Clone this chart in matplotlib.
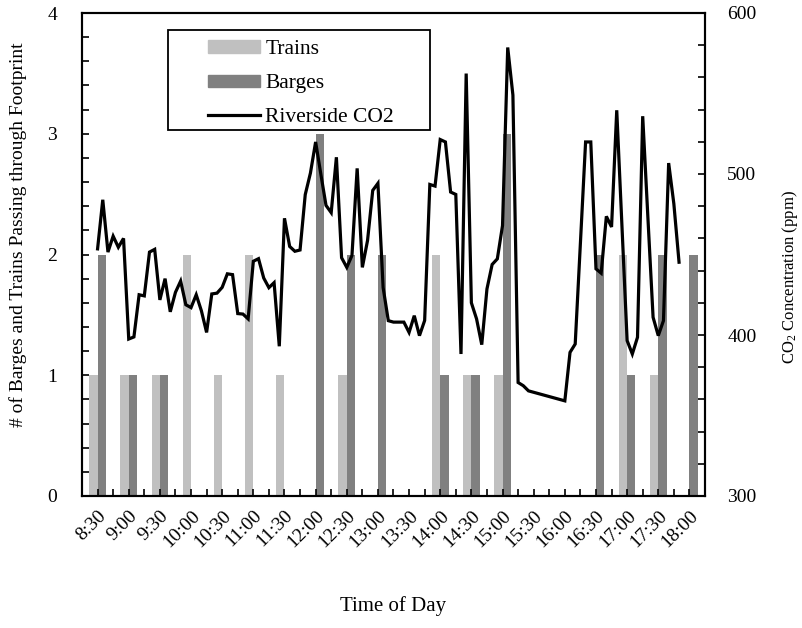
import matplotlib
matplotlib.use("Agg")
import matplotlib.pyplot as plt
from matplotlib.lines import Line2D
from matplotlib.patches import Patch, Rectangle
from matplotlib.ticker import MultipleLocator

plt.rcParams["font.family"] = ["Liberation Serif", "DejaVu Serif"]
plt.rcParams["mathtext.fontset"] = "custom"
plt.rcParams["mathtext.rm"] = "Liberation Serif"
plt.rcParams["mathtext.it"] = "Liberation Serif:italic"

# half-hour slots for the vessel / train counts
slots = ["8:30", "9:00", "9:30", "10:00", "10:30", "11:00", "11:30", "12:00",
         "12:30", "13:00", "13:30", "14:00", "14:30", "15:00", "15:30", "16:00",
         "16:30", "17:00", "17:30", "18:00"]
trains = [1, 1, 1, 2, 1, 2, 1, 0, 1, 0, 0, 2, 1, 1, 0, 0, 0, 2, 1, 0]
barges = [2, 1, 1, 0, 0, 0, 0, 3, 2, 2, 0, 1, 1, 3, 0, 0, 2, 1, 2, 2]

# riverside CO2, 5-min readings, minutes after 8:30 (no data 15:25-15:55)
co2_minutes = list(range(0, 420, 5)) + list(range(450, 565, 5))
co2_ppm = [
    453.5, 484.0, 451.5, 461.4, 454.5, 460.0, 397.5, 398.8, 425.0, 424.3,
    451.5, 453.2, 421.8, 435.0, 414.4, 426.5, 433.5, 418.8, 417.0, 425.0,
    415.0, 401.6, 425.5, 426.0, 429.6, 438.0, 437.5, 413.3, 413.0, 410.0,
    445.8, 447.4, 435.4, 429.4, 432.5, 393.0, 472.5, 455.0, 452.0, 452.8,
    487.2, 500.6, 519.9, 500.0, 480.5, 476.0, 510.4, 448.0, 442.0, 449.4,
    503.5, 442.0, 458.7, 489.8, 494.2, 429.5, 408.9, 408.0, 408.0, 408.0,
    401.6, 412.0, 399.6, 409.0, 493.5, 492.5, 521.4, 519.9, 488.8, 487.3,
    388.2, 562.4, 420.0, 410.0, 394.0, 428.6, 443.8, 447.3, 468.0, 578.6,
    549.0, 370.5, 368.5, 365.3,
    359.1, 389.2, 394.4, 457.0, 519.9, 519.9, 441.1, 438.4, 473.7, 467.1,
    539.6, 468.0, 396.5, 388.2, 398.6, 535.9, 473.0, 411.0, 399.6, 408.9,
    506.8, 481.5, 445.2,
]

TRAIN_C = "#c0c0c0"
BARGE_C = "#808080"
FS = 14

fig = plt.figure(figsize=(8.03, 6.28), dpi=100)
ax = fig.add_axes([82 / 803, 1 - 496 / 628, (705 - 82) / 803, (496 - 13) / 628])
ax2 = ax.twinx()

x = list(range(len(slots)))
w = 0.267
ax.bar([i - w / 2 for i in x], trains, width=w, color=TRAIN_C, linewidth=0)
ax.bar([i + w / 2 for i in x], barges, width=w, color=BARGE_C, linewidth=0)
ax2.plot([m / 30 for m in co2_minutes], co2_ppm, color="black", lw=2.3,
         solid_joinstyle="miter")

ax.set_xlim(-0.5, len(slots) - 0.5)
ax.set_ylim(0, 4)
ax2.set_ylim(300, 600)

ax.set_xticks(x)
ax.set_xticklabels(slots, rotation=45, ha="right", va="top",
                   rotation_mode="anchor", fontsize=FS)
ax.xaxis.set_minor_locator(MultipleLocator(0.5))
ax.yaxis.set_major_locator(MultipleLocator(1))
ax.yaxis.set_minor_locator(MultipleLocator(0.2))
ax2.yaxis.set_major_locator(MultipleLocator(100))
ax2.yaxis.set_minor_locator(MultipleLocator(20))

for a in (ax, ax2):
    a.tick_params(which="both", direction="in", length=5, width=1.2,
                  labelsize=FS, top=False)
    for s in a.spines.values():
        s.set_linewidth(1.5)
ax.tick_params(axis="x", which="both", pad=8)
ax.tick_params(axis="y", which="both", pad=18)
ax2.tick_params(axis="y", which="both", pad=16)

ax.set_xlabel("Time of Day", fontsize=FS + 1, labelpad=33)
ax.set_ylabel("# of Barges and Trains Passing through Footprint", fontsize=FS)
ax.yaxis.set_label_coords(-0.088, 0.542)
ax2.set_ylabel("CO$_2$ Concentration (ppm)", fontsize=12)
ax2.yaxis.set_label_coords(1.1204, 0.453)

# legend box drawn by hand, entries placed inside it
lx0, ly0, lx1, ly1 = 168, 30, 430, 130
box_x0 = (lx0 - 82) / (705 - 82)
box_y1 = (496 - ly0) / (496 - 13)
box_w = (lx1 - lx0) / (705 - 82)
box_h = (ly1 - ly0) / (496 - 13)
ax2.add_patch(Rectangle((box_x0, box_y1 - box_h), box_w, box_h,
                        transform=ax2.transAxes, fill=False, edgecolor="black",
                        lw=1.3, zorder=5, clip_on=False))
handles = [Patch(color=TRAIN_C), Patch(color=BARGE_C),
           Line2D([], [], color="black", lw=2.3)]
ax2.legend(handles, ["Trains", "Barges", "Riverside CO2"], frameon=False,
           loc="upper left",
           bbox_to_anchor=(box_x0 + 23 / 623, box_y1 + 7 / 483),
           fontsize=15.5, handlelength=2.4, handleheight=0.5, handletextpad=0.25,
           labelspacing=0.7, borderpad=0.3)

fig.savefig("out.png", dpi=100)
